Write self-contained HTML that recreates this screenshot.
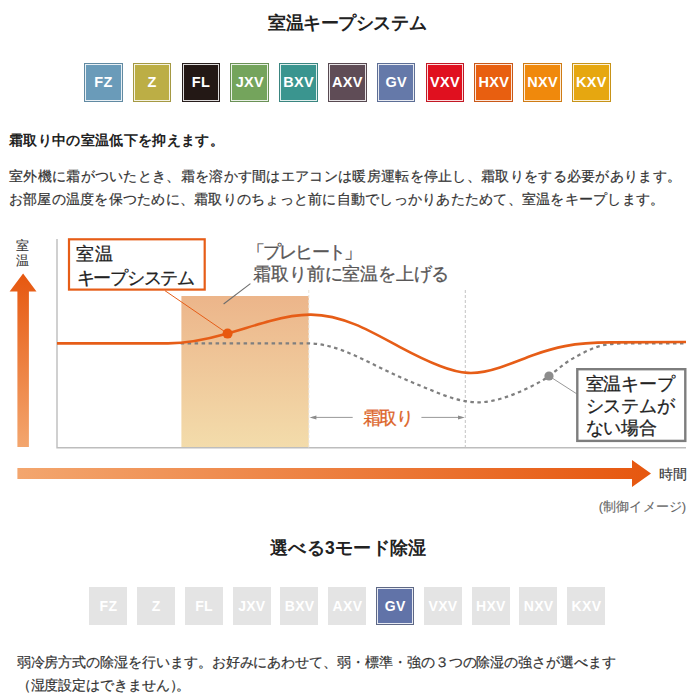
<!DOCTYPE html>
<html lang="ja">
<head>
<meta charset="utf-8">
<title>室温キープシステム</title>
<style>
html,body{margin:0;padding:0;background:#fff;}
body{width:700px;height:700px;position:relative;overflow:hidden;font-family:"Liberation Sans",sans-serif;color:#333;}
.abs{position:absolute;white-space:nowrap;}
.title{position:absolute;text-align:justify;text-align-last:justify;font-size:17.5px;letter-spacing:-.5px;font-weight:bold;color:#222;line-height:24px;white-space:nowrap;}
.badges{position:absolute;}
.bd{position:absolute;top:0;width:38.5px;height:39px;box-sizing:border-box;color:#fff;font-weight:bold;font-size:14.5px;letter-spacing:.3px;text-indent:.3px;line-height:38px;text-align:center;box-shadow:inset 0 0 0 1px rgba(60,60,60,.18);}
.bd:after{content:"";position:absolute;left:1px;top:1px;right:1px;bottom:1px;border:1px solid rgba(255,255,255,.85);}
.b2 .bd{width:38px;height:38px;line-height:38px;background:#e4e4e4;font-size:14px;box-shadow:none;}
.b2 .bd.on{box-shadow:inset 0 0 0 1px rgba(90,90,90,.45);}
.b2 .bd:after{display:none;}
.b2 .bd.on:after{display:block;}
.p{position:absolute;white-space:nowrap;text-spacing-trim:space-all;color:#333;-webkit-text-stroke:.2px #333;text-align:justify;text-align-last:justify;font-size:14px;line-height:22px;}
</style>
</head>
<body>

<div class="title" style="left:268px;width:158px;top:10.5px;">室温キープシステム</div>

<div class="badges" style="left:84px;top:62.5px;">
  <div class="bd" style="left:0px;background:#6a9bb9;">FZ</div>
  <div class="bd" style="left:48.8px;background:#bcae45;">Z</div>
  <div class="bd" style="left:97.6px;background:#231815;">FL</div>
  <div class="bd" style="left:146.4px;background:#74a45c;">JXV</div>
  <div class="bd" style="left:195.2px;background:#3a958f;">BXV</div>
  <div class="bd" style="left:244px;background:#5f4c56;">AXV</div>
  <div class="bd" style="left:292.8px;background:#6579a9;">GV</div>
  <div class="bd" style="left:341.6px;background:#e0101f;">VXV</div>
  <div class="bd" style="left:390.4px;background:#e85f10;">HXV</div>
  <div class="bd" style="left:439.2px;background:#f0890c;">NXV</div>
  <div class="bd" style="left:488px;background:#e6a710;">KXV</div>
</div>

<div class="p" style="left:9px;top:129px;width:214.5px;font-weight:bold;color:#222;-webkit-text-stroke:0;">霜取り中の室温低下を抑えます。</div>
<div class="p" style="left:9px;top:165px;width:672px;">室外機に霜がついたとき、霜を溶かす間はエアコンは暖房運転を停止し、霜取りをする必要があります。</div>
<div class="p" style="left:9px;top:188px;width:655px;">お部屋の温度を保つために、霜取りのちょっと前に自動でしっかりあたためて、室温をキープします。</div>

<svg class="abs" style="left:0;top:230px;" width="700" height="290" viewBox="0 230 700 290" font-family="Liberation Sans, sans-serif">
  <defs>
    <linearGradient id="gv" x1="0" y1="0" x2="0" y2="1">
      <stop offset="0" stop-color="#e6570f"/>
      <stop offset="1" stop-color="#f3a66e"/>
    </linearGradient>
    <linearGradient id="gh" x1="0" y1="0" x2="1" y2="0">
      <stop offset="0" stop-color="#f3a66e"/>
      <stop offset="1" stop-color="#e6570f"/>
    </linearGradient>
    <linearGradient id="gs" x1="0" y1="0" x2="0" y2="1">
      <stop offset="0" stop-color="#ecb58a"/>
      <stop offset="1" stop-color="#f3dcab"/>
    </linearGradient>
  </defs>
  <!-- shaded preheat zone -->
  <rect x="181.4" y="296" width="127.4" height="151.5" fill="url(#gs)"/>
  <!-- axes -->
  <path d="M57 239V447.7H686" fill="none" stroke="#bdbdbd" stroke-width="1.4"/>
  <!-- vertical arrow -->
  <path d="M23.1 273.5L36.5 291.6H28.9V447H17.4V291.6H9.6Z" fill="url(#gv)"/>
  <!-- horizontal arrow -->
  <path d="M17.4 468H632V460L651 473.6L632 487V479H17.4Z" fill="url(#gh)"/>
  <!-- dashed verticals -->
  <path d="M308.8 290V447.5" stroke="#e9e1d6" stroke-width="1" stroke-dasharray="3 2" fill="none"/>
  <path d="M465.3 290V447.5" stroke="#c4c4c4" stroke-width="1" stroke-dasharray="3 2" fill="none"/>
  <!-- dotted grey curve -->
  <path d="M180.6 343.4H308C319.6 343.4 331.3 346.2 342.9 350.6C352.4 354.2 361.9 358.7 371.4 363.4C380.9 368.1 390.5 372.8 400.0 377.1C409.5 381.4 419.1 385.2 428.6 389.1C438.1 393.0 447.6 396.9 457.1 399.4C464.7 401.4 472.4 402.5 480.0 402.3C488.3 402.0 496.7 400.1 505.0 397.4C515.0 394.1 525.0 389.7 535.0 384.5C539.7 382.1 544.3 379.5 549.0 376.1C554.3 372.2 559.7 367.4 565.0 363.5C570.0 359.9 575.0 357.1 580.0 354.5C585.0 351.9 590.0 349.4 595.0 347.6C605.0 344.0 615.0 343.4 625.0 343.4H686" fill="none" stroke="#7f7f7f" stroke-width="2.2" stroke-dasharray="3.5 3.5"/>
  <!-- orange curve -->
  <path d="M57 343.4H168C187.8 343.4 207.7 339.1 227.5 333.5C241.7 329.5 255.8 324.8 270.0 321.0C283.7 317.3 297.3 314.4 311.0 314.6C325.7 314.8 340.3 318.4 355.0 324.4C370.0 330.5 385.0 339.1 400.0 347.1C413.3 354.2 426.7 360.9 440.0 366.0C449.3 369.6 458.7 372.4 468.0 372.9C478.7 373.5 489.3 371.0 500.0 367.5C511.7 363.7 523.3 358.6 535.0 354.5C545.0 350.9 555.0 348.0 565.0 346.1C580.0 343.2 595.0 342.4 610.0 342.4L686 342" fill="none" stroke="#e65d17" stroke-width="2.6"/>
  <!-- callout lines -->
  <path d="M165 290.7L227.5 333.5" stroke="#e65d17" stroke-width="1" fill="none"/>
  <circle cx="227.6" cy="333.6" r="5" fill="#e8590f"/>
  <path d="M250.4 283.6L223.6 304" stroke="#6e6e6e" stroke-width="1.1" fill="none"/>
  <path d="M549 376L577 394" stroke="#999" stroke-width="1" fill="none"/>
  <circle cx="549" cy="376" r="4.6" fill="#8c8c8c"/>
  <!-- defrost arrows -->
  <path d="M312 417.4H352.7M421.4 417.4H462" stroke="#999" stroke-width="1" fill="none"/>
  <path d="M309.6 417.4L316.4 415.4V419.4ZM464.8 417.4L458 415.4V419.4Z" fill="#8c8c8c"/>
  <!-- boxes -->
  <rect x="69" y="239.3" width="135.7" height="50.3" fill="#fff" stroke="#e65d17" stroke-width="2.2"/>
  <rect x="577.3" y="369.2" width="108" height="71.7" fill="#fff" stroke="#7d7d7d" stroke-width="2.4"/>
  <!-- labels -->
  <g stroke-width=".3" stroke-linejoin="round">
  <text x="75.5" y="259.5" font-size="18" fill="#222" stroke="#222" textLength="37.5">室温</text>
  <text x="76.5" y="283.5" font-size="18" fill="#222" stroke="#222" textLength="118.5">キープシステム</text>
  <text x="246.5" y="257.5" font-size="18" fill="#595757" stroke="#595757" textLength="115.5">「プレヒート」</text>
  <text x="253.3" y="280" font-size="18" fill="#595757" stroke="#595757" textLength="196">霜取り前に室温を上げる</text>
  <text x="362.5" y="423.5" font-size="18" fill="#dc6428" stroke="#dc6428" textLength="51.5">霜取り</text>
  <text x="585.5" y="389.5" font-size="18" fill="#222" stroke="#222" textLength="89">室温キープ</text>
  <text x="585.5" y="411.7" font-size="18" fill="#222" stroke="#222" textLength="89">システムが</text>
  <text x="585.5" y="434" font-size="18" fill="#222" stroke="#222" textLength="71">ない場合</text>
  <text x="16" y="250.3" font-size="13" fill="#333" stroke="#333" stroke-width=".12">室</text>
  <text x="16" y="264.5" font-size="13" fill="#333" stroke="#333" stroke-width=".12">温</text>
  <text x="659" y="478.7" font-size="13.5" fill="#333" stroke="#333" stroke-width=".12" textLength="28">時間</text>
  <text x="598.7" y="510.7" font-size="13" fill="#666" stroke="#666" stroke-width=".12" textLength="87.5">(制御イメージ)</text>
  </g>
</svg>

<div class="title" style="left:270px;width:156px;top:535.5px;">選べる3モード除湿</div>

<div class="badges b2" style="left:89.3px;top:587px;">
  <div class="bd" style="left:0px;">FZ</div>
  <div class="bd" style="left:47.8px;">Z</div>
  <div class="bd" style="left:95.6px;">FL</div>
  <div class="bd" style="left:143.4px;">JXV</div>
  <div class="bd" style="left:191.2px;">BXV</div>
  <div class="bd" style="left:239px;">AXV</div>
  <div class="bd on" style="left:286.8px;background:#6173a8;">GV</div>
  <div class="bd" style="left:334.6px;">VXV</div>
  <div class="bd" style="left:382.4px;">HXV</div>
  <div class="bd" style="left:430.2px;">NXV</div>
  <div class="bd" style="left:478px;">KXV</div>
</div>

<div class="p" style="left:16.6px;top:651.5px;width:599px;font-size:13.5px;letter-spacing:-.3px;">弱冷房方式の除湿を行います。お好みにあわせて、弱・標準・強の３つの除湿の強さが選べます</div>
<div class="p" style="left:16.6px;top:675px;width:173.5px;font-size:13.5px;letter-spacing:-.3px;">（湿度設定はできません<span style="margin-right:-.55em">）</span>。</div>

</body>
</html>
